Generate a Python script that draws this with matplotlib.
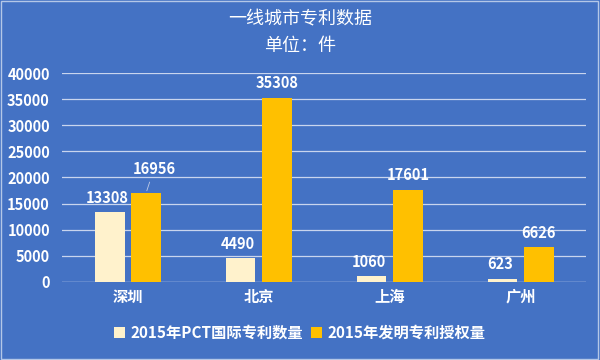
import numpy as np
import matplotlib
matplotlib.use('Agg')
import matplotlib.pyplot as plt

plt.rcParams['font.family'] = ['Noto Sans CJK SC', 'DejaVu Sans']

cities = ['深圳', '北京', '上海', '广州']
pct = [13308, 4490, 1060, 623]
grant = [16956, 35308, 17601, 6626]
series_names = ['2015年PCT国际专利数量', '2015年发明专利授权量']
yticks = [0, 5000, 10000, 15000, 20000, 25000, 30000, 35000, 40000]

bg = '#4472C4'
fig = plt.figure(figsize=(6, 3.6), dpi=100, facecolor=bg)
ax = fig.add_axes([0.104, 0.217, 0.873, 0.58], facecolor=bg)

x = np.arange(len(cities))
w = 0.225
off = 0.138
ax.bar(x - off, pct, w, color='#FFF2CC', label=series_names[0], zorder=3)
ax.bar(x + off, grant, w, color='#FFC000', label=series_names[1], zorder=3)

for i, v in enumerate(pct):
    ax.text(x[i] - off - 0.02, v + 1300, str(v), ha='center', va='bottom',
            color='white', fontsize=10.5, fontweight='bold')
for i, v in enumerate(grant):
    if i == 0:
        ax.annotate(str(v), xy=(x[i] + off, v), xytext=(x[i] + 0.2, v + 3200),
                    ha='center', va='bottom', color='white', fontsize=10.5,
                    fontweight='bold',
                    arrowprops=dict(arrowstyle='-', color='#BFCBE6', lw=0.6))
    else:
        ax.text(x[i] + off, v + 1300, str(v), ha='center', va='bottom',
                color='white', fontsize=10.5, fontweight='bold')

ax.set_xlim(-0.5, len(cities) - 0.5)
ax.set_ylim(0, 40000)
ax.set_yticks(yticks)
ax.set_yticklabels([str(t) for t in yticks])
ax.set_xticks(x)
ax.set_xticklabels(cities)
ax.yaxis.grid(True, color='#C9D5EE', linewidth=0.9, zorder=0)
ax.tick_params(axis='both', length=0, colors='white')
ax.tick_params(axis='y', pad=9, labelsize=10.5)
ax.tick_params(axis='x', pad=5, labelsize=11)
for lbl in ax.get_yticklabels() + ax.get_xticklabels():
    lbl.set_fontweight('bold')
for s in ax.spines.values():
    s.set_visible(False)
ax.axhline(0, color='#C9D5EE', linewidth=0.9, zorder=2)

fig.text(0.5, 0.945, '一线城市专利数据', ha='center', va='center',
         color='white', fontsize=13)
fig.text(0.5, 0.872, '单位：件', ha='center', va='center',
         color='white', fontsize=13)

leg = fig.legend(loc='center', bbox_to_anchor=(0.5, 0.075), ncol=2, frameon=False,
                 fontsize=11, handlelength=0.7, handleheight=0.7,
                 handletextpad=0.4, columnspacing=0.5)
for t in leg.get_texts():
    t.set_color('white')
    t.set_fontweight('bold')

fig.patches.append(plt.Rectangle((0.002, 0.003), 0.995, 0.994, transform=fig.transFigure,
                                 fill=False, edgecolor='#B4C7E7', linewidth=1))

fig.savefig('out.png', dpi=100, facecolor=bg)
